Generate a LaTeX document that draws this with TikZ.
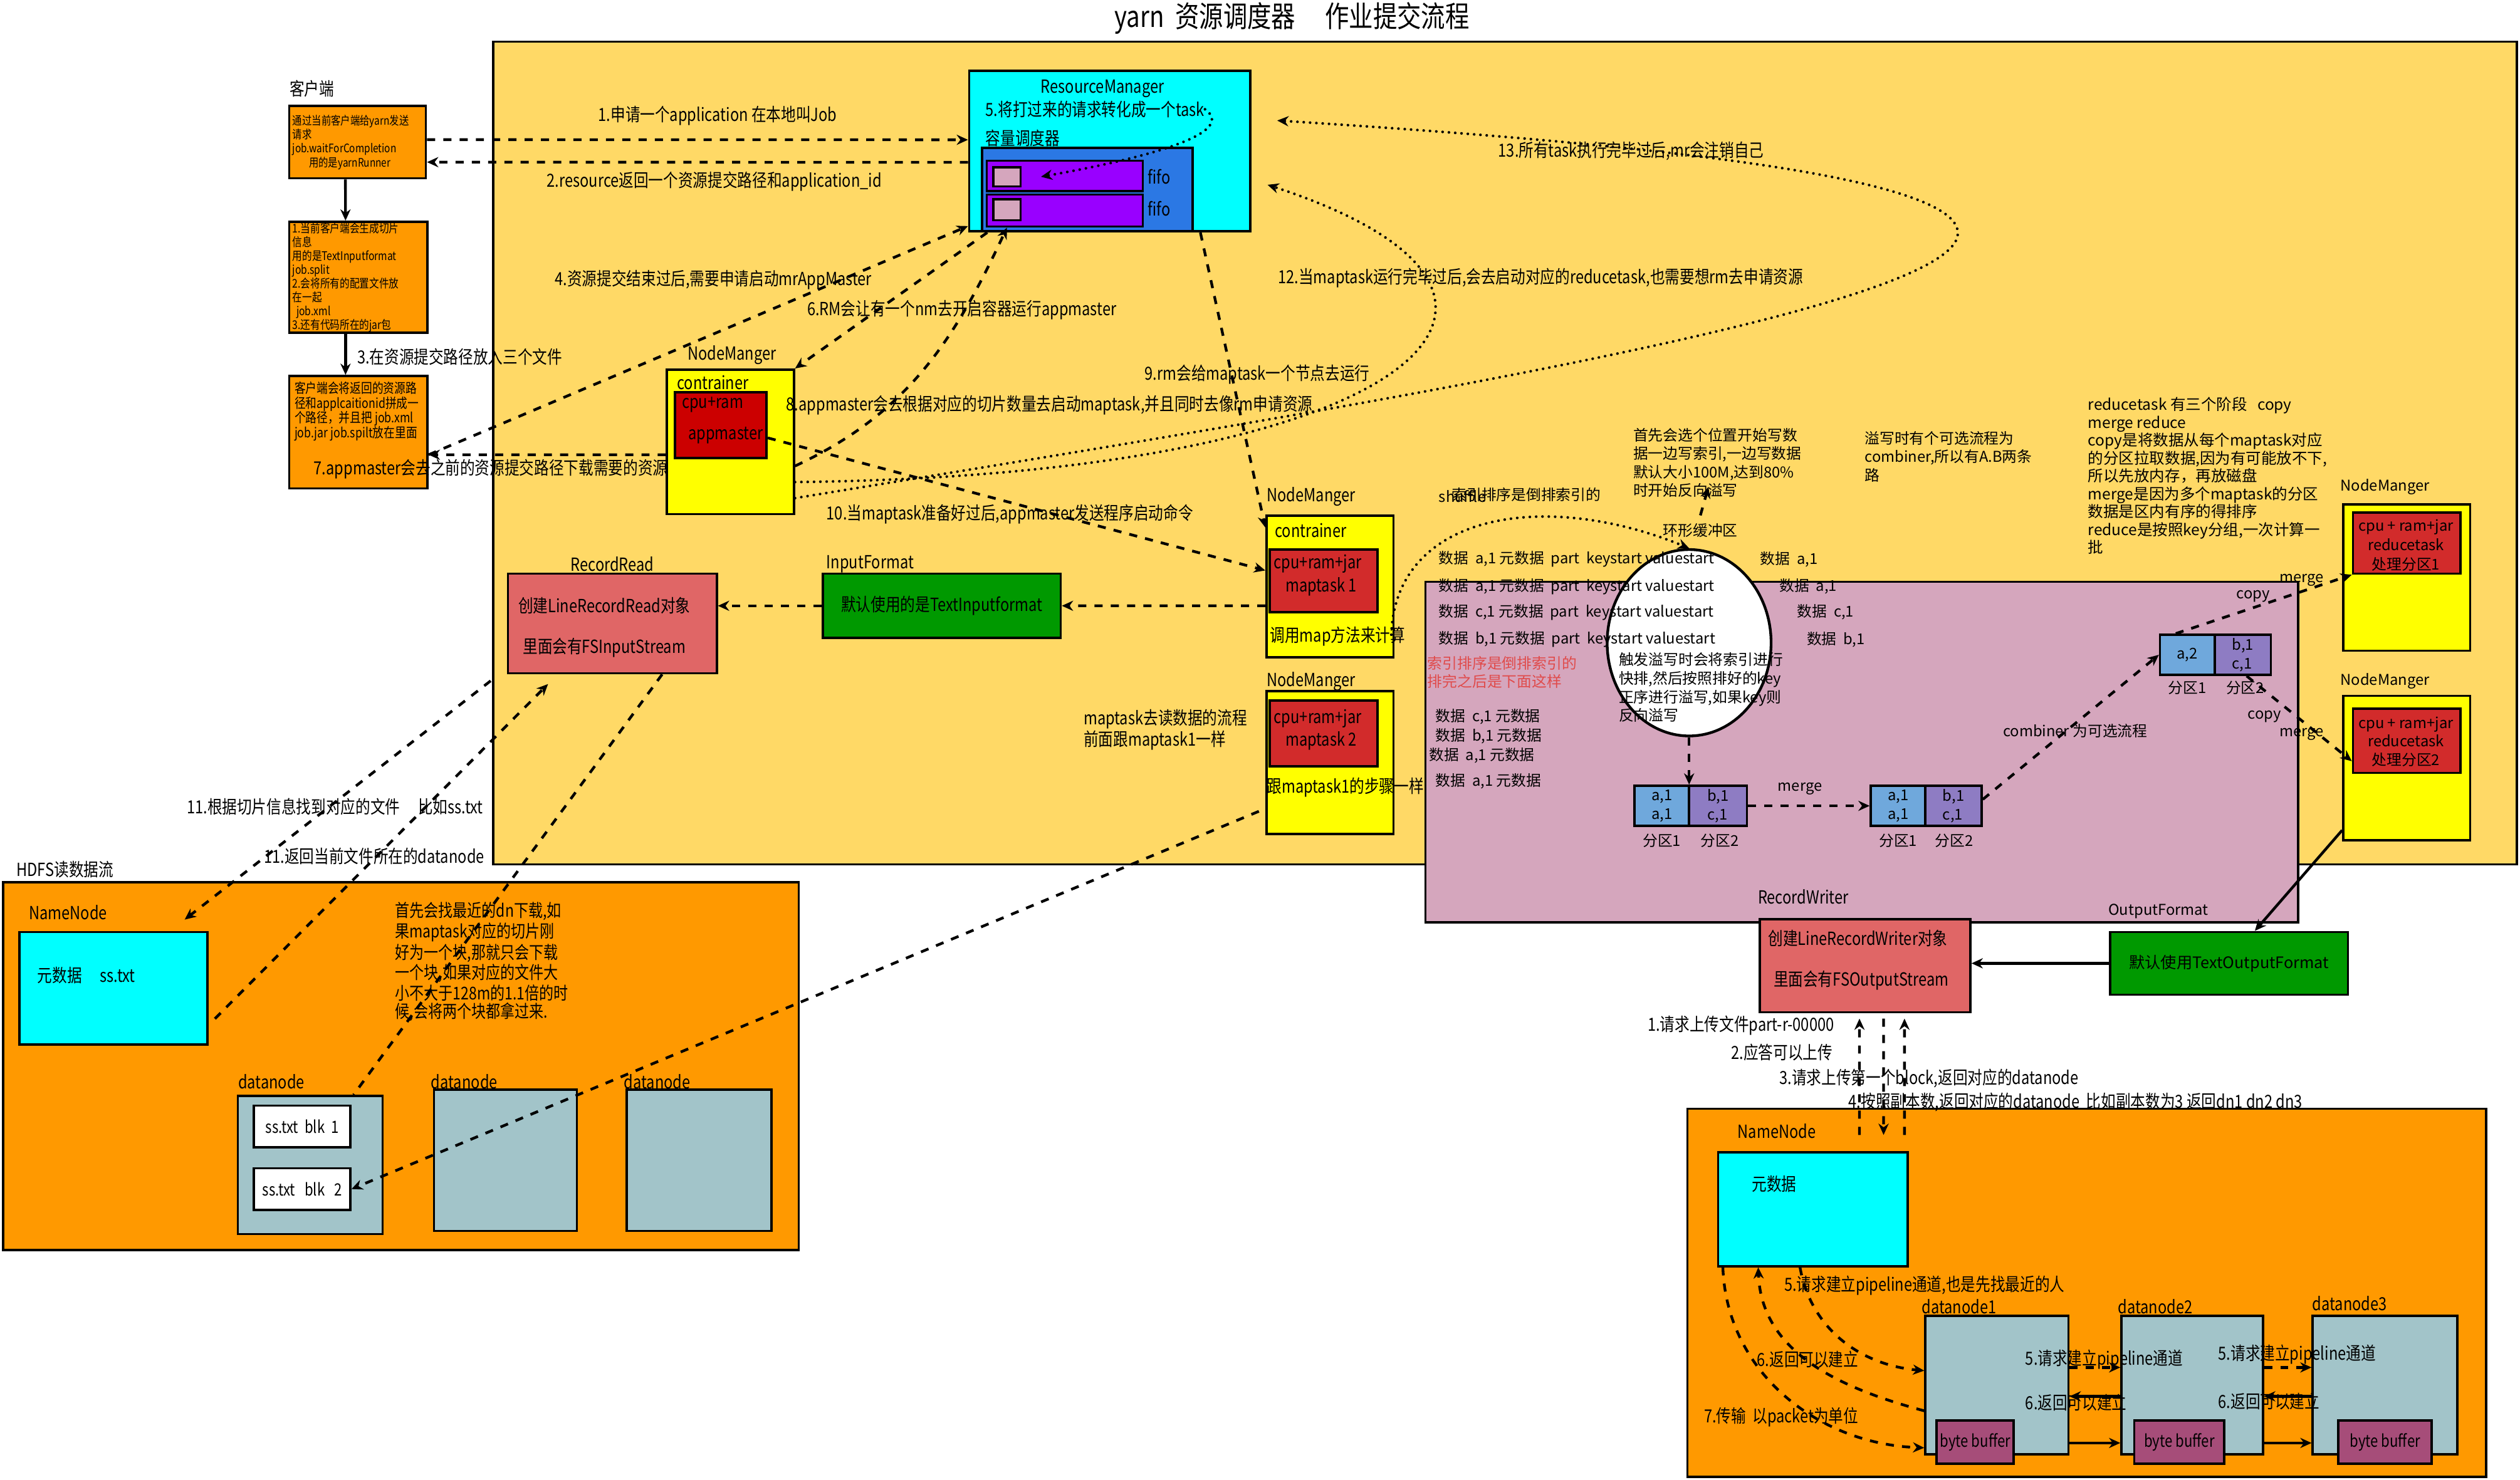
\documentclass[tikz,border=0pt]{standalone}
\usepackage{fontspec}
\setmainfont{Noto Sans CJK SC}[FakeStretch=0.82]
\newfontfamily\plainfont{Noto Sans CJK SC}
\usetikzlibrary{arrows.meta,positioning,calc,shapes.geometric}
\newcommand{\fsz}[2]{\fontsize{#1}{#2}\selectfont}
\definecolor{yarnbg}{HTML}{FFD966}
\definecolor{hdfsbg}{HTML}{FF9900}
\definecolor{cyanbox}{HTML}{00FFFF}
\definecolor{schedblue}{HTML}{2B78E4}
\definecolor{fifopurple}{HTML}{9900FF}
\definecolor{shufflepink}{HTML}{D5A6BD}
\definecolor{nmyellow}{HTML}{FFFF00}
\definecolor{amred}{HTML}{CC0000}
\definecolor{taskred}{HTML}{D22B2B}
\definecolor{readred}{HTML}{E06666}
\definecolor{fmtgreen}{HTML}{009900}
\definecolor{partblue}{HTML}{6FA8DC}
\definecolor{partpurple}{HTML}{8E7CC3}
\definecolor{dngray}{HTML}{A2C4C9}
\definecolor{bufpurple}{HTML}{A64D79}
\definecolor{notered}{HTML}{E04B4B}
\begin{document}
\begin{tikzpicture}[>={Stealth[length=5pt,width=4.5pt]},font=\fsz{8}{9.5},
 box/.style={draw,line width=1pt,inner sep=0pt},
 lbl/.style={inner sep=0pt,anchor=west},
 note/.style={inner sep=0pt,anchor=north west,align=left},
 rt/.style={font=\plainfont\fsz{6.6}{8.2}},
 dflow/.style={line width=1.2pt,dash pattern=on 3.6pt off 3.6pt},
 dots/.style={line width=1.2pt,dash pattern=on 0pt off 2.8pt,line cap=round},
 sflow/.style={line width=1.2pt}]
\useasboundingbox (0,0) rectangle (39.2,-23.025);
\fill[white] (0,0) rectangle (39.2,-23.025);
\node[font=\fsz{13}{15}] (title) at (20.1,-0.28) {yarn\ \ 资源调度器\quad 作业提交流程};
% areas
\draw[line width=1pt,fill=yarnbg] (7.675,-0.65) rectangle (39.15,-13.45);
\draw[line width=1pt,fill=shufflepink] (22.175,-9.05) rectangle (35.75,-14.35);
\draw[line width=1pt,fill=hdfsbg] (0.05,-13.725) rectangle (12.425,-19.45);
\draw[line width=1pt,fill=hdfsbg] (26.25,-17.25) rectangle (38.675,-22.975);
% client
\node[lbl] (clientlbl) at (4.5,-1.375) {客户端};
\node[box,fill=hdfsbg,minimum width=2.125cm,minimum height=1.125cm,text width=2.02cm,align=left,font=\fsz{5.2}{6.2}] (req) at (5.5625,-2.2125) {通过当前客户端给yarn发送\\请求\\job.waitForCompletion\\\hspace*{1.4em}用的是yarnRunner};
\node[box,fill=hdfsbg,minimum width=2.15cm,minimum height=1.725cm,text width=2.05cm,align=left,font=\fsz{5.3}{6.1}] (split) at (5.575,-4.3125) {1.当前客户端会生成切片\\信息\\用的是TextInputformat\\job.split\\2.会将所有的配置文件放\\在一起\\\ job.xml\\3.还有代码所在的jar包};
\node[box,fill=hdfsbg,minimum width=2.15cm,minimum height=1.75cm] (upload) at (5.575,-6.725) {};
\node[note,font=\fsz{6}{6.6}] (uploadtxt) at (4.575,-5.93) {客户端会将返回的资源路\\径和applcaitionid拼成一\\个路径，并且把 job.xml\\job.jar job.spilt放在里面};
\draw[sflow,->] ([xshift=-0.19cm]req.south) -- ([xshift=-0.2cm]split.north);
\draw[sflow,->] ([xshift=-0.2cm]split.south) -- ([xshift=-0.2cm]upload.north);
\node[lbl] (l3) at (5.55,-5.55) {3.在资源提交路径放入三个文件};
% resource manager
\node[box,fill=cyanbox,minimum width=4.375cm,minimum height=2.5cm] (rm) at (17.2625,-2.35) {};
\node (rmlbl) at (17.15,-1.375) {ResourceManager};
\node[lbl] (t5) at (15.325,-1.7) {5.将打过来的请求转化成一个task};
\node[lbl] (capsched) at (15.325,-2.15) {容量调度器};
\node[box,fill=schedblue,minimum width=3.275cm,minimum height=1.3cm] (sched) at (16.9125,-2.95) {};
\node[box,fill=fifopurple,minimum width=2.425cm,minimum height=0.475cm] (fifo1) at (16.5625,-2.7375) {};
\node[box,fill=fifopurple,minimum width=2.425cm,minimum height=0.5cm] (fifo2) at (16.5625,-3.275) {};
\node[box,fill=shufflepink,minimum width=0.425cm,minimum height=0.3cm] (slot1) at (15.6625,-2.75) {};
\node[box,fill=shufflepink,minimum width=0.425cm,minimum height=0.325cm] (slot2) at (15.6625,-3.2625) {};
\node (fifolbl1) at (18.03,-2.75) {fifo};
\node (fifolbl2) at (18.03,-3.25) {fifo};
\draw[dots,->] (t5.east) .. controls (19.3,-2.1) and (17.6,-2.5) .. ([xshift=0.3cm]slot1.east);
\draw[dflow,->] ([yshift=0.04cm]req.east) -- ([yshift=0.175cm]rm.west);
\draw[dflow,->] ([yshift=-0.175cm]rm.west) -- ([yshift=-0.31cm]req.east);
\node[lbl] (l1) at (9.3,-1.8) {1.申请一个application 在本地叫Job};
\node[lbl] (l2) at (8.5,-2.825) {2.resource返回一个资源提交路径和application\_id};
% appmaster node
\node[lbl] (nm1lbl) at (10.69,-5.525) {NodeManger};
\node[box,fill=nmyellow,minimum width=1.975cm,minimum height=2.25cm] (nm1) at (11.3625,-6.875) {};
\node[lbl] (c1) at (10.525,-5.95) {contrainer};
\node[box,fill=amred,minimum width=1.425cm,minimum height=1.025cm] (am) at (11.2125,-6.6125) {};
\node[lbl] (am1) at (10.6,-6.3) {cpu+ram};
\node[lbl] (am2) at (10.7,-6.775) {appmaster};
\draw[dflow,->] ([yshift=-0.35cm]upload.east) -- ([yshift=0.1cm]rm.south west);
\node[lbl] (l4) at (8.625,-4.35) {4.资源提交结束过后,需要申请启动mrAppMaster};
\draw[dflow,->] ([xshift=0.3cm]rm.south west) -- (nm1.north east);
\node[lbl] (l6) at (12.55,-4.825) {6.RM会让有一个nm去开启容器运行appmaster};
\draw[dflow,->] ([yshift=-0.375cm]nm1.east) to[out=25,in=-115] (slot2.south |- fifo2.south);
\node[lbl] (l8) at (12.225,-6.3) {8.appmaster会去根据对应的切片数量去启动maptask,并且同时去像rm申请资源};
\draw[dflow,->] ([yshift=-0.2cm]nm1.west) -- ([yshift=-0.35cm]upload.east);
\node[lbl] (l7) at (4.875,-7.3) {7.appmaster会去之前的资源提交路径下载需要的资源};
% maptask nodes
\node[lbl] (nm2lbl) at (19.7,-7.725) {NodeManger};
\node[box,fill=nmyellow,minimum width=1.975cm,minimum height=2.2cm] (nm2) at (20.6875,-9.125) {};
\node[lbl] (c2) at (19.825,-8.25) {contrainer};
\node[box,fill=taskred,minimum width=1.675cm,minimum height=0.975cm] (mt1) at (20.5875,-9.0375) {};
\node (mt1a) at (20.5,-8.775) {cpu+ram+jar};
\node (mt1b) at (20.55,-9.125) {maptask 1};
\node[lbl] (mapcalc) at (19.75,-9.9) {调用map方法来计算};
\node[lbl] (nm3lbl) at (19.7,-10.6) {NodeManger};
\node[box,fill=nmyellow,minimum width=1.975cm,minimum height=2.225cm] (nm3) at (20.6875,-11.8625) {};
\node[box,fill=taskred,minimum width=1.675cm,minimum height=1.025cm] (mt2) at (20.5875,-11.4125) {};
\node (mt2a) at (20.5,-11.175) {cpu+ram+jar};
\node (mt2b) at (20.55,-11.525) {maptask 2};
\node[lbl] (samesteps) at (19.7,-12.25) {跟maptask1的步骤一样};
\node[lbl,align=left] (m2note) at (16.85,-11.35) {maptask去读数据的流程\\前面跟maptask1一样};
\draw[dflow,->] ([yshift=-0.2cm]am.east) -- ([yshift=0.25cm]nm2.west);
\node[lbl] (l10) at (12.85,-8.0) {10.当maptask准备好过后,appmaster发送程序启动命令};
\draw[dflow,->] ([xshift=1.41cm]rm.south) -- ([yshift=-0.2cm]nm2.north west);
\node[lbl] (l9) at (17.8,-5.825) {9.rm会给maptask一个节点去运行};
% input side
\node[lbl] (iflbl) at (12.85,-8.775) {InputFormat};
\node[box,fill=fmtgreen,minimum width=3.7cm,minimum height=1.0cm] (inputfmt) at (14.65,-9.425) {默认使用的是TextInputformat};
\node (rrlbl) at (9.525,-8.775) {RecordRead};
\node[box,fill=readred,minimum width=3.25cm,minimum height=1.55cm] (rr) at (9.525,-9.7) {};
\node (rr1) at (9.4,-9.425) {创建LineRecordRead对象};
\node (rr2) at (9.4,-10.075) {里面会有FSInputStream};
\draw[dflow,->] ([yshift=-0.3cm]nm2.west) -- (inputfmt.east);
\draw[dflow,->] (inputfmt.west) -- ([yshift=0.275cm]rr.east);
% hdfs read
\node[lbl] (hdfsrlbl) at (0.25,-13.525) {HDFS读数据流};
\node[lbl] (nnrlbl) at (0.445,-14.2) {NameNode};
\node[box,fill=cyanbox,minimum width=2.925cm,minimum height=1.75cm] (nnr) at (1.7625,-15.375) {};
\node[lbl] (nnrmeta) at (0.575,-15.175) {元数据\quad ss.txt};
\node[lbl] (dnr1lbl) at (3.7,-16.825) {datanode};
\node[lbl] (dnr2lbl) at (6.7,-16.825) {datanode};
\node[lbl] (dnr3lbl) at (9.7,-16.825) {datanode};
\node[box,fill=dngray,minimum width=2.25cm,minimum height=2.15cm] (dnr1) at (4.825,-18.125) {};
\node[box,fill=dngray,minimum width=2.225cm,minimum height=2.2cm] (dnr2) at (7.8625,-18.05) {};
\node[box,fill=dngray,minimum width=2.25cm,minimum height=2.2cm] (dnr3) at (10.875,-18.05) {};
\node[box,fill=white,minimum width=1.5cm,minimum height=0.65cm,font=\fsz{7.5}{9}] (blk1) at (4.7,-17.525) {ss.txt\ \ blk\ \ 1};
\node[box,fill=white,minimum width=1.5cm,minimum height=0.65cm,font=\fsz{7.5}{9}] (blk2) at (4.7,-18.5) {ss.txt\ \ \ blk\ \ \ 2};
\draw[dflow,->] ([xshift=-0.25cm,yshift=-0.1cm]rr.south west) -- ([xshift=1.11cm,yshift=0.175cm]nnr.north);
\draw[dflow,->] ([xshift=0.1cm,yshift=-0.475cm]nnr.east) -- ([xshift=-1cm,yshift=-0.15cm]rr.south);
\draw[dflow] ([xshift=0.775cm]rr.south) -- ([xshift=0.675cm]dnr1.north);
\draw[dflow,->] ([xshift=-0.1cm,yshift=-0.76cm]nm3.west) -- (blk2.east);
\node[lbl] (l11a) at (2.9,-12.55) {11.根据切片信息找到对应的文件\quad 比如ss.txt};
\node[lbl] (l11b) at (4.1,-13.32) {11.返回当前文件所在的datanode};
\node[note,font=\fsz{7.8}{7.9}] (dlnote) at (6.14,-14.03) {首先会找最近的dn下载,如\\果maptask对应的切片刚\\好为一个块,那就只会下载\\一个块,如果对应的文件大\\小不大于128m的1.1倍的时\\候,会将两个块都拿过来.};
% long dotted requests back to the resource manager
\draw[dots,->] ([yshift=-0.625cm]nm1.east) .. controls (22,-7.4) and (25,-4.6) .. ([xshift=0.25cm,yshift=-0.525cm]rm.east);
\draw[dots,->] ([yshift=-0.875cm]nm1.east) .. controls (20,-6.5) and (30.2,-4.9) .. (30.45,-3.675) .. controls (30.65,-2.7) and (25,-2.2) .. ([xshift=0.4cm,yshift=0.475cm]rm.east);
\node[lbl] (l12) at (19.875,-4.325) {12.当maptask运行完毕过后,会去启动对应的reducetask,也需要想rm去申请资源};
\node[lbl] (l13) at (23.3,-2.35) {13.所有task执行完毕过后,mr会注销自己};
% shuffle
\node[ellipse,draw,line width=1.2pt,fill=white,minimum width=2.55cm,minimum height=2.9cm,inner sep=0pt] (ring) at (26.275,-10.0) {};
\node[rt] (ringlbl) at (26.45,-8.25) {环形缓冲区};
\node[rt,note] (bufnote) at (25.4,-6.65) {首先会选个位置开始写数\\据一边写索引,一边写数据\\默认大小100M,达到80\%\\时开始反向溢写};
\coordinate (bufnoteend) at (26.575,-7.575);
\draw[dflow,->] (ringlbl.north) -- (bufnoteend);
\node[rt,note] (combnote) at (29.0,-6.7) {溢写时有个可选流程为\\combiner,所以有A.B两条\\路};
\node[rt,lbl] (shufflelbl) at (22.375,-7.725) {shuffle};
\node[rt,lbl] (sortlbl) at (22.575,-7.7) {索引排序是倒排索引的};
\draw[dots,->] ([xshift=-0.05cm,yshift=-0.75cm]nm2.east) .. controls (21.7,-8.0) and (24.0,-7.6) .. (ring.north);
\node[rt,lbl] (row1) at (22.375,-8.7) {数据\ \ a,1 元数据\ \ part\ \ keystart valuestart};
\node[rt,lbl] (row2) at (22.375,-9.125) {数据\ \ a,1 元数据\ \ part\ \ keystart valuestart};
\node[rt,lbl] (row3) at (22.375,-9.525) {数据\ \ c,1 元数据\ \ part\ \ keystart valuestart};
\node[rt,lbl] (row4) at (22.375,-9.95) {数据\ \ b,1 元数据\ \ part\ \ keystart valuestart};
\node[rt,lbl] (rowr1) at (27.375,-8.7) {数据\ \ a,1};
\node[rt,lbl] (rowr2) at (27.675,-9.125) {数据\ \ a,1};
\node[rt,lbl] (rowr3) at (27.95,-9.525) {数据\ \ c,1};
\node[rt,lbl] (rowr4) at (28.1,-9.95) {数据\ \ b,1};
\node[rt,note,text=notered] (sortnote) at (22.2,-10.2) {索引排序是倒排索引的\\排完之后是下面这样};
\node[rt,lbl] (srt1) at (22.325,-11.15) {数据\ \ c,1 元数据};
\node[rt,lbl] (srt2) at (22.325,-11.45) {数据\ \ b,1 元数据};
\node[rt,lbl] (srt3) at (22.225,-11.75) {数据\ \ a,1 元数据};
\node[rt,lbl] (srt4) at (22.325,-12.15) {数据\ \ a,1 元数据};
\node[rt,note] (ringnote) at (25.175,-10.15) {触发溢写时会将索引进行\\快排,然后按照排好的key\\正序进行溢写,如果key则\\反向溢写};
% partitions
\node[box,rt,fill=partblue,minimum width=0.85cm,minimum height=0.625cm,align=left] (p1a) at (25.85,-12.5375) {a,1\\a,1};
\node[box,rt,fill=partpurple,minimum width=0.9cm,minimum height=0.625cm,align=left] (p1b) at (26.725,-12.5375) {b,1\\c,1};
\node[rt] (p1alb) at (25.85,-13.075) {分区1};
\node[rt] (p1blb) at (26.75,-13.075) {分区2};
\draw[dflow,->] (ring.south) -- (ring.south |- p1a.north);
\node[box,rt,fill=partblue,minimum width=0.85cm,minimum height=0.625cm,align=left] (p2a) at (29.525,-12.5375) {a,1\\a,1};
\node[box,rt,fill=partpurple,minimum width=0.875cm,minimum height=0.625cm,align=left] (p2b) at (30.3875,-12.5375) {b,1\\c,1};
\node[rt] (p2alb) at (29.525,-13.075) {分区1};
\node[rt] (p2blb) at (30.4,-13.075) {分区2};
\draw[dflow,->] (p1b.east) -- (p2a.west);
\node[rt] (mergelbl) at (28.0,-12.275) {merge};
\node[box,rt,fill=partblue,minimum width=0.85cm,minimum height=0.625cm] (p3a) at (34.025,-10.1875) {a,2};
\node[box,rt,fill=partpurple,minimum width=0.875cm,minimum height=0.625cm,align=left] (p3b) at (34.8875,-10.1875) {b,1\\c,1};
\node[rt] (p3alb) at (34.025,-10.7) {分区1};
\node[rt] (p3blb) at (34.925,-10.7) {分区2};
\draw[dflow,->] ([yshift=0.1cm]p2b.east) -- (p3a.west);
\node[rt,lbl] (combiner) at (31.15,-11.375) {combiner 为可选流程};
% reduce nodes
\node[rt] (r1lbl) at (37.1,-7.575) {NodeManger};
\node[box,fill=nmyellow,minimum width=1.975cm,minimum height=2.275cm] (r1) at (37.4375,-8.9875) {};
\node[box,fill=taskred,minimum width=1.675cm,minimum height=0.95cm] (red1) at (37.4375,-8.45) {};
\node[rt,align=center,font=\plainfont\fsz{6.6}{8.6}] (red1txt) at (37.425,-8.48) {cpu + ram+jar\\reducetask\\处理分区1};
\node[rt] (r2lbl) at (37.1,-10.6) {NodeManger};
\node[box,fill=nmyellow,minimum width=1.975cm,minimum height=2.25cm] (r2) at (37.4375,-11.95) {};
\node[box,fill=taskred,minimum width=1.675cm,minimum height=1.0cm] (red2) at (37.4375,-11.525) {};
\node[rt,align=center,font=\plainfont\fsz{6.6}{8.1}] (red2txt) at (37.425,-11.54) {cpu + ram+jar\\reducetask\\处理分区2};
\draw[dflow,->] ([xshift=-0.18cm]p3a.north) -- (red1.south west);
\node[rt] (copy1) at (35.05,-9.275) {copy};
\node[rt] (merge1) at (35.8,-9.025) {merge};
\draw[dflow,->] ([xshift=0.06cm]p3b.south) -- ([yshift=0.2cm]red2.south west);
\node[rt] (copy2) at (35.225,-11.15) {copy};
\node[rt] (merge2) at (35.8,-11.425) {merge};
\node[rt,note,font=\plainfont\fsz{6.8}{7.9}] (rednote) at (32.475,-6.175) {reducetask 有三个阶段\ \ \ copy\\merge reduce\\copy是将数据从每个maptask对应\\的分区拉取数据,因为有可能放不下,\\所以先放内存，再放磁盘\\merge是因为多个maptask的分区\\数据是区内有序的得排序\\reduce是按照key分组,一次计算一\\批};
% output side
\node[rt] (oflbl) at (33.575,-14.175) {OutputFormat};
\node[box,fill=fmtgreen,minimum width=3.7cm,minimum height=0.975cm,font=\plainfont\fsz{7}{8.5}] (outfmt) at (34.675,-14.9875) {默认使用TextOutputFormat};
\draw[sflow,->] ([yshift=0.175cm]r2.south west) -- ([xshift=0.4cm]outfmt.north);
\node (rwlbl) at (28.05,-13.95) {RecordWriter};
\node[box,fill=readred,minimum width=3.275cm,minimum height=1.45cm] (rw) at (29.0125,-15.025) {};
\node (rw1) at (28.9,-14.6) {创建LineRecordWriter对象};
\node (rw2) at (28.95,-15.25) {里面会有FSOutputStream};
\draw[sflow,->] (outfmt.west) -- (outfmt.west -| rw.east);
% hdfs write
\node[lbl] (nnwlbl) at (27.025,-17.6) {NameNode};
\node[box,fill=cyanbox,minimum width=2.95cm,minimum height=1.775cm] (nnw) at (28.2,-18.8125) {};
\node (nnwmeta) at (27.6,-18.425) {元数据};
\draw[dflow,->] ([xshift=0.725cm,yshift=0.25cm]nnw.north) -- ([xshift=-0.0875cm,yshift=-0.08cm]rw.south);
\draw[dflow,->] ([xshift=0.2875cm,yshift=-0.08cm]rw.south) -- ([xshift=1.1cm,yshift=0.25cm]nnw.north);
\draw[dflow,->] ([xshift=1.425cm,yshift=0.25cm]nnw.north) -- ([xshift=0.6125cm,yshift=-0.08cm]rw.south);
\node[lbl] (w1) at (25.625,-15.95) {1.请求上传文件part-r-00000};
\node[lbl] (w2) at (26.925,-16.375) {2.应答可以上传};
\node[lbl] (w3) at (27.675,-16.775) {3.请求上传第一个block,返回对应的datanode};
\node[lbl] (w4) at (28.75,-17.15) {4.按照副本数,返回对应的datanode\ \ 比如副本数为3 返回dn1 dn2 dn3};
\node (wd1lbl) at (30.475,-20.325) {datanode1};
\node (wd2lbl) at (33.525,-20.325) {datanode2};
\node (wd3lbl) at (36.55,-20.275) {datanode3};
\node[box,fill=dngray,minimum width=2.225cm,minimum height=2.15cm] (wd1) at (31.0625,-21.55) {};
\node[box,fill=dngray,minimum width=2.2cm,minimum height=2.15cm] (wd2) at (34.1,-21.55) {};
\node[box,fill=dngray,minimum width=2.25cm,minimum height=2.15cm] (wd3) at (37.1,-21.55) {};
\node[box,fill=bufpurple,minimum width=1.2cm,minimum height=0.675cm,font=\fsz{7.5}{9}] (bb1) at (30.725,-22.4375) {byte buffer};
\node[box,fill=bufpurple,minimum width=1.4cm,minimum height=0.675cm,font=\fsz{7.5}{9}] (bb2) at (33.9,-22.4375) {byte buffer};
\node[box,fill=bufpurple,minimum width=1.45cm,minimum height=0.675cm,font=\fsz{7.5}{9}] (bb3) at (37.1,-22.4375) {byte buffer};
\draw[dflow,->] ([xshift=-0.2cm]nnw.south) to[out=-80,in=175] ([yshift=0.225cm]wd1.west);
\draw[dflow,->] ([yshift=-0.4cm]wd1.west) to[out=165,in=-88] ([xshift=-0.85cm]nnw.south);
\draw[dflow,->] ([xshift=-1.4cm]nnw.south) to[out=-88,in=178] ([yshift=-0.975cm]wd1.west);
\node[lbl] (p5) at (27.75,-20.0) {5.请求建立pipeline通道,也是先找最近的人};
\node[lbl] (p6) at (27.325,-21.15) {6.返回可以建立};
\node[lbl] (p7) at (26.5,-22.05) {7.传输\ \ 以packet为单位};
\draw[dflow,->] ([yshift=0.275cm]wd1.east) -- ([yshift=0.275cm]wd2.west);
\draw[sflow,->] ([yshift=-0.175cm]wd2.west) -- ([yshift=-0.175cm]wd1.east);
\draw[sflow,->] ([yshift=-0.9cm]wd1.east) -- ([yshift=-0.9cm]wd2.west);
\draw[dflow,->] ([yshift=0.275cm]wd2.east) -- ([yshift=0.275cm]wd3.west);
\draw[sflow,->] ([yshift=-0.175cm]wd3.west) -- ([yshift=-0.175cm]wd2.east);
\draw[sflow,->] ([yshift=-0.9cm]wd2.east) -- ([yshift=-0.9cm]wd3.west);
\node[lbl] (q5a) at (31.5,-21.15) {5.请求建立pipeline通道};
\node[lbl] (q6a) at (31.5,-21.825) {6.返回可以建立};
\node[lbl] (q5b) at (34.5,-21.075) {5.请求建立pipeline通道};
\node[lbl] (q6b) at (34.5,-21.8) {6.返回可以建立};
\end{tikzpicture}
\end{document}
